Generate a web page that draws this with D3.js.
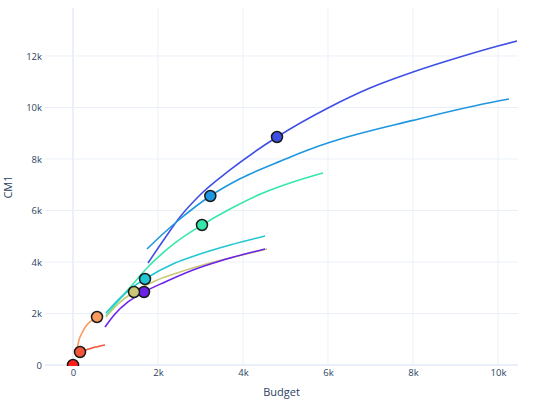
<!DOCTYPE html>
<html>
<head>
<meta charset="utf-8">
<script src="https://cdn.jsdelivr.net/npm/d3@7"></script>
<style>
  body { margin: 0; background: #fff; }
  svg { font-family: "Open Sans", verdana, arial, sans-serif; }
</style>
</head>
<body>
<div id="chart"></div>
<script>
// curves (Budget vs CM1), one pair of arrays per channel
var channels = ["c1", "c2", "c3", "c4", "c5", "c6", "c7", "c8", "c9"];

var budgetC1 = [1765, 2165, 2518, 2988, 3694, 4800, 6000, 6988, 8000, 9106, 10000, 10447];
var cm1C1    = [3961, 4932, 5748, 6602, 7573, 8854, 9981, 10757, 11379, 11961, 12388, 12583];

var budgetC2 = [1741, 2165, 2518, 3231, 3929, 4988, 5529, 6047, 8000, 10000, 10259];
var cm1C2    = [4505, 5165, 5670, 6563, 7230, 7990, 8350, 8650, 9500, 10252, 10330];

var budgetC3 = [776, 1106, 1388, 1741, 2400, 3035, 3694, 4471, 5176, 5882];
var cm1C3    = [1903, 2560, 3100, 3767, 4738, 5437, 6058, 6680, 7107, 7456];

var budgetC4 = [776, 1106, 1412, 1694, 2400, 2918, 3694, 4518];
var cm1C4    = [2019, 2602, 3029, 3340, 3961, 4272, 4660, 5010];

var budgetC5 = [776, 1059, 1435, 1929, 2518, 3224, 3929, 4565];
var cm1C5    = [1864, 2369, 2835, 3262, 3612, 3961, 4250, 4505];

var budgetC6 = [753, 988, 1294, 1671, 2165, 2824, 3459, 4000, 4518];
var cm1C6    = [1476, 1981, 2447, 2835, 3223, 3689, 4039, 4290, 4505];

var budgetC7 = [94, 141, 212, 306, 424, 565];
var cm1C7    = [583, 971, 1243, 1515, 1709, 1864];

var budgetC8 = [165, 447, 753];
var cm1C8    = [505, 660, 777];

var budgetC9 = [0];
var cm1C9    = [0];

// current spend point on each curve
var markerBudget = [4800, 3231, 3035, 1694, 1435, 1671, 565, 165, 0];
var markerCM1    = [8854, 6563, 5437, 3340, 2835, 2835, 1864, 505, 0];

var xTicks = [0, 2000, 4000, 6000, 8000, 10000];
var yTicks = [0, 2000, 4000, 6000, 8000, 10000, 12000];

var colors = ["#3f4fe6", "#1f97e0", "#35e8aa", "#22c6d2", "#c8c878", "#6d22ec", "#fa9a5c", "#f4563a", "#ff1e1e"];

var budgets = [budgetC1, budgetC2, budgetC3, budgetC4, budgetC5, budgetC6, budgetC7, budgetC8, budgetC9];
var cm1s = [cm1C1, cm1C2, cm1C3, cm1C4, cm1C5, cm1C6, cm1C7, cm1C8, cm1C9];

var width = 540, height = 400;
var plot = { left: 45, right: 518, top: 8, bottom: 366 };

var svg = d3.select("#chart").append("svg")
    .attr("width", width)
    .attr("height", height);

var x = d3.scaleLinear().domain([-659, 10471]).range([plot.left, plot.right]);
var y = d3.scaleLinear().domain([-39, 13864]).range([plot.bottom, plot.top]);

var fmt = function(d) { return d === 0 ? "0" : (d / 1000) + "k"; };

// grid
var grid = svg.append("g");
grid.selectAll(".vg").data(xTicks).enter().append("line")
    .attr("x1", d => x(d)).attr("x2", d => x(d))
    .attr("y1", plot.top).attr("y2", plot.bottom)
    .attr("stroke", "#EBF0F8")
    .attr("stroke-width", d => d === 0 ? 2 : 1);
grid.selectAll(".hg").data(yTicks).enter().append("line")
    .attr("x1", plot.left).attr("x2", plot.right)
    .attr("y1", d => y(d)).attr("y2", d => y(d))
    .attr("stroke", "#EBF0F8")
    .attr("stroke-width", d => d === 0 ? 2 : 1);

// axes (labels only, plotly style)
var xAxis = d3.axisBottom(x).tickValues(xTicks).tickFormat(fmt).tickSize(0).tickPadding(3);
var yAxis = d3.axisLeft(y).tickValues(yTicks).tickFormat(fmt).tickSize(0).tickPadding(3);

var gx = svg.append("g").attr("transform", `translate(0,${plot.bottom})`).call(xAxis);
var gy = svg.append("g").attr("transform", `translate(${plot.left},0)`).call(yAxis);
[gx, gy].forEach(function(g) {
  g.select(".domain").remove();
  g.selectAll("text").attr("fill", "#2a3f5f").style("font-size", "9.5px")
    .style("font-family", "\"Open Sans\", verdana, arial, sans-serif");
});

svg.append("text")
    .attr("x", (plot.left + plot.right) / 2)
    .attr("y", 396)
    .attr("text-anchor", "middle")
    .attr("fill", "#2a3f5f")
    .style("font-size", "11px")
    .text("Budget");

svg.append("text")
    .attr("transform", `translate(12,${(plot.top + plot.bottom) / 2}) rotate(-90)`)
    .attr("text-anchor", "middle")
    .attr("fill", "#2a3f5f")
    .style("font-size", "11px")
    .text("CM1");

// clip to the plot area
svg.append("clipPath").attr("id", "clip").append("rect")
    .attr("x", plot.left).attr("y", plot.top)
    .attr("width", plot.right - plot.left).attr("height", plot.bottom - plot.top);

var area = svg.append("g").attr("clip-path", "url(#clip)");

var line = d3.line()
    .x(d => x(d[0]))
    .y(d => y(d[1]))
    .curve(d3.curveMonotoneX);

// lines
channels.forEach(function(c, i) {
  var pts = d3.zip(budgets[i], cm1s[i]);
  if (pts.length < 2) return;
  area.append("path")
      .datum(pts)
      .attr("fill", "none")
      .attr("stroke", colors[i])
      .attr("stroke-width", 1.6)
      .attr("d", line);
});

// markers on top
area.selectAll("circle")
    .data(channels.map((c, i) => [markerBudget[i], markerCM1[i], colors[i]]).reverse())
    .enter().append("circle")
    .attr("cx", d => x(d[0]))
    .attr("cy", d => y(d[1]))
    .attr("r", 5.5)
    .attr("fill", d => d[2])
    .attr("stroke", "#1a1a1a")
    .attr("stroke-width", 1.5);
</script>
</body>
</html>
